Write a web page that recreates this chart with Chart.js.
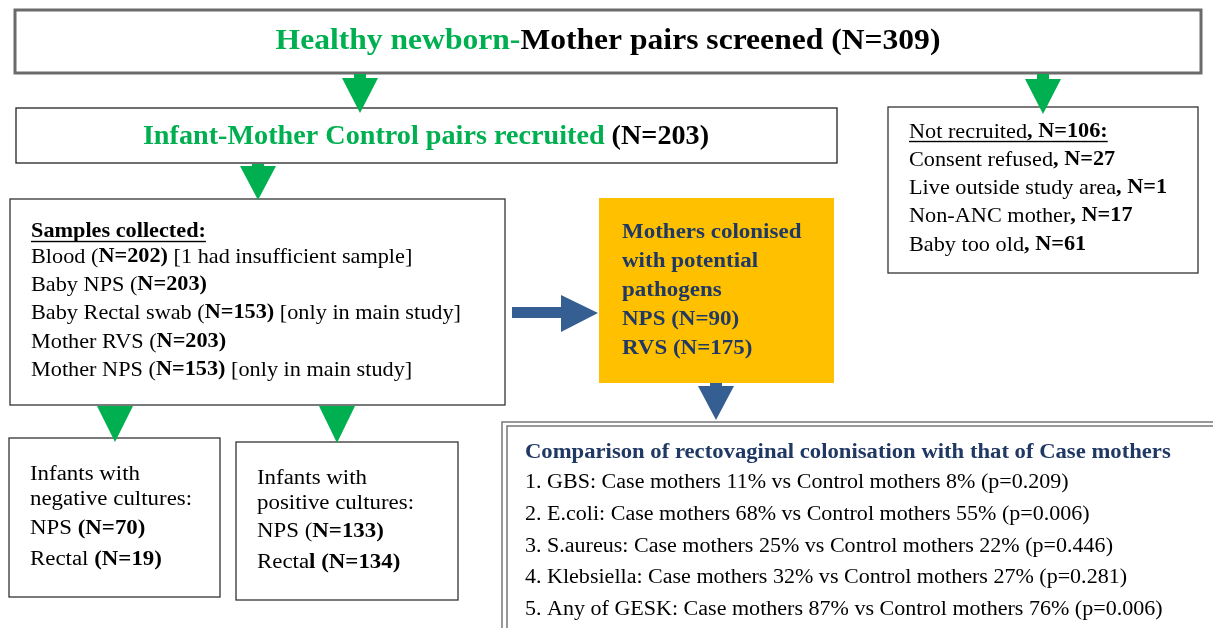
<!DOCTYPE html>
<html lang="en">
<head>
<meta charset="UTF-8" />
<title>Control pairs flow diagram</title>
<script src="https://cdn.jsdelivr.net/npm/chart.js"></script>
<style>
  html, body { margin: 0; padding: 0; background: #fff; }
  #wrap { width: 1213px; height: 628px; }
</style>
</head>
<body>
<div id="wrap"><canvas id="flow"></canvas></div>
<script>
// ---- data ----
const screenedN = 309;
const recruitedN = 203;

const sampleNames = ["Blood", "Baby NPS", "Baby Rectal swab", "Mother RVS", "Mother NPS"];
const sampleN = [202, 203, 153, 203, 153];
const sampleNotes = ["[1 had insufficient sample]", "", "[only in main study]", "", "[only in main study]"];

const notRecruitedN = 106;
const notRecruitedReasons = ["Consent refused", "Live outside study area", "Non-ANC mother", "Baby too old"];
const notRecruitedCounts = [27, 1, 17, 61];

const colonisedNPS = 90;
const colonisedRVS = 175;

const negNPS = 70, negRectal = 19;
const posNPS = 133, posRectal = 134;

const organisms = ["GBS", "E.coli", "S.aureus", "Klebsiella", "Any of GESK"];
const casePct = [11, 68, 25, 32, 87];
const controlPct = [8, 55, 22, 27, 76];
const pValues = ["0.209", "0.006", "0.446", "0.281", "0.006"];

// each line is a list of [text, flags]  b = bold, g = green, u = underline
const screenedLines = [[["Healthy newborn-", "bg"], [`Mother pairs screened (N=${screenedN})`, "b"]]];
const recruitedLines = [[["Infant-Mother Control pairs recruited ", "bg"], [`(N=${recruitedN})`, "b"]]];

const samplesLines = [[["Samples collected:", "bu"]]].concat(sampleNames.map((name, i) => {
  const line = [[name + " (", ""], [`N=${sampleN[i]})`, "b"]];
  if (sampleNotes[i]) line.push([" " + sampleNotes[i], ""]);
  return line;
}));

const notRecLines = [[["Not recruited", "u"], [`, N=${notRecruitedN}:`, "bu"]]].concat(
  notRecruitedReasons.map((r, i) => [[r, ""], [`, N=${notRecruitedCounts[i]}`, "b"]])
);

const colonisedLines = [
  [["Mothers colonised", "b"]],
  [["with potential", "b"]],
  [["pathogens", "b"]],
  [[`NPS (N=${colonisedNPS})`, "b"]],
  [[`RVS (N=${colonisedRVS})`, "b"]]
];

const negLines = [
  [["Infants with", ""]],
  [["negative cultures:", ""]],
  [["NPS ", ""], [`(N=${negNPS})`, "b"]],
  [["Rectal ", ""], [`(N=${negRectal})`, "b"]]
];
const posLines = [
  [["Infants with", ""]],
  [["positive cultures:", ""]],
  [["NPS (", ""], [`N=${posNPS})`, "b"]],
  [["Recta", ""], [`l (N=${posRectal})`, "b"]]
];

const compareLines = [[["Comparison of rectovaginal colonisation with that of Case mothers", "b"]]].concat(
  organisms.map((o, i) => [[`${i + 1}. ${o}: Case mothers ${casePct[i]}% vs Control mothers ${controlPct[i]}% (p=${pValues[i]})`, ""]])
);

// ---- look ----
const GREEN = "#00b050";
const NAVY = "#1f3864";
const BLUE = "#355e93";
const ORANGE = "#ffc000";
const FONT = "'Liberation Serif', 'DejaVu Serif', serif";
const SX = 1.06; // horizontal stretch, the source face is wider than Times

function fontFor(flags, size) {
  return (flags.includes("b") ? "bold " : "") + size + "px " + FONT;
}

function lineWidth(ctx, line, size) {
  let w = 0;
  line.forEach(([t, f]) => { ctx.font = fontFor(f, size); w += ctx.measureText(t).width; });
  return w * SX;
}

function drawLine(ctx, line, x, y, size, color, center) {
  let cx = center ? x - lineWidth(ctx, line, size) / 2 : x;
  ctx.textBaseline = "middle";
  ctx.textAlign = "left";
  line.forEach(([t, f]) => {
    ctx.font = fontFor(f, size);
    const w = ctx.measureText(t).width * SX;
    ctx.fillStyle = f.includes("g") ? GREEN : color;
    ctx.save();
    ctx.translate(cx, y);
    ctx.scale(SX, 1);
    ctx.fillText(t, 0, 0);
    ctx.restore();
    if (f.includes("u")) {
      ctx.fillRect(cx, y + size * 0.42, w, 1.4);
    }
    cx += w;
  });
}

const flowPlugin = {
  id: "flow",
  afterDatasetsDraw(chart) {
    const ctx = chart.ctx;
    const X = v => chart.scales.x.getPixelForValue(v);
    const Y = v => chart.scales.y.getPixelForValue(v);

    function box(x0, y0, x1, y1, stroke, lw, fill) {
      if (fill) { ctx.fillStyle = fill; ctx.fillRect(X(x0), Y(y0), X(x1) - X(x0), Y(y1) - Y(y0)); }
      if (stroke) {
        ctx.strokeStyle = stroke; ctx.lineWidth = lw;
        ctx.strokeRect(X(x0), Y(y0), X(x1) - X(x0), Y(y1) - Y(y0));
      }
    }
    function lines(list, x, ys, size, color, center) {
      list.forEach((l, i) => drawLine(ctx, l, X(x), Y(ys[i]), size, color, center));
    }
    function downArrow(cx, top, tip, half, color, stemTop, stemHalf) {
      ctx.fillStyle = color;
      if (stemTop !== undefined) ctx.fillRect(X(cx - stemHalf), Y(stemTop), X(cx + stemHalf) - X(cx - stemHalf), Y(top) - Y(stemTop) + 1);
      ctx.beginPath();
      ctx.moveTo(X(cx - half), Y(top));
      ctx.lineTo(X(cx + half), Y(top));
      ctx.lineTo(X(cx), Y(tip));
      ctx.closePath();
      ctx.fill();
    }

    ctx.save();
    // boxes
    box(15, 10, 1201, 73, "#6b6b6b", 3);
    box(16, 108, 837, 163, "#222", 1.3);
    box(888, 107, 1198, 273, "#333", 1.3);
    box(10, 199, 505, 405, "#333", 1.3);
    box(599, 198, 834, 383, null, 0, ORANGE);
    box(502, 422, 1225, 640, "#777", 1.5);
    box(507, 426, 1220, 640, "#777", 1.5);
    box(9, 438, 220, 597, "#333", 1.3);
    box(236, 442, 458, 600, "#333", 1.3);

    // arrows
    downArrow(360, 78, 113, 18, GREEN, 74, 6);
    downArrow(258, 166, 200, 18, GREEN, 164, 6);
    downArrow(1043, 79, 114, 18, GREEN, 74, 6);
    downArrow(115, 406, 442, 18, GREEN);
    downArrow(337, 406, 443, 18, GREEN);
    downArrow(716, 386, 420, 18, BLUE, 383, 6);
    // blue right arrow
    ctx.fillStyle = BLUE;
    ctx.fillRect(X(512), Y(307), X(562) - X(512), Y(318) - Y(307));
    ctx.beginPath();
    ctx.moveTo(X(561), Y(295));
    ctx.lineTo(X(598), Y(313));
    ctx.lineTo(X(561), Y(332));
    ctx.closePath();
    ctx.fill();

    // texts
    lines(screenedLines, 608, [41], 29.8, "#000", true);
    lines(recruitedLines, 426, [137], 26.6, "#000", true);
    lines(samplesLines, 31, [232, 257, 285, 313, 342, 370], 21, "#000");
    lines(colonisedLines, 622, [232, 261, 290, 319, 348], 21.7, NAVY);
    lines(notRecLines, 909, [132, 160, 188, 216, 245], 21, "#000");
    lines(negLines, 30, [474, 499, 528, 559], 21.6, "#000");
    lines(posLines, 257, [478, 503, 531, 562], 21.6, "#000");
    lines(compareLines.slice(0, 1), 525, [452], 21.4, NAVY);
    lines(compareLines.slice(1), 525, [483, 515, 547, 578, 610], 20.8, "#000");
    ctx.restore();
  }
};

new Chart(document.getElementById("flow"), {
  type: "scatter",
  data: { datasets: [{ data: [], pointRadius: 0 }] },
  options: {
    responsive: true,
    maintainAspectRatio: false,
    animation: false,
    events: [],
    layout: { padding: 0 },
    plugins: { legend: { display: false }, tooltip: { enabled: false } },
    scales: {
      x: { type: "linear", min: 0, max: 1213, display: false },
      y: { type: "linear", min: 0, max: 628, reverse: true, display: false }
    }
  },
  plugins: [flowPlugin]
});
</script>
</body>
</html>
